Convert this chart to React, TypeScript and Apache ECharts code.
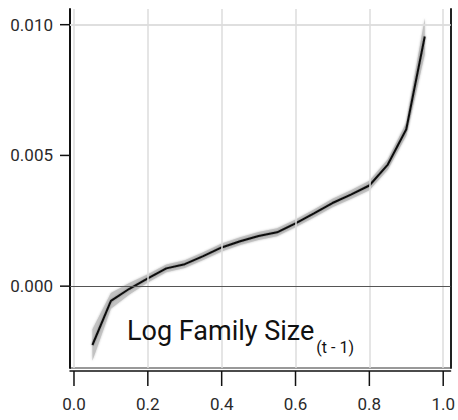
import React, { useEffect, useRef } from "react";
import * as echarts from "echarts";

// Quantile of the predictor (x) and estimated marginal effect (y)
const quantiles = [0.05, 0.1, 0.15, 0.2, 0.25, 0.3, 0.35, 0.4, 0.45, 0.5, 0.55, 0.6, 0.65, 0.7, 0.75, 0.8, 0.85, 0.9, 0.95];
const effect = [-0.00225, -0.00056, -0.0001, 0.0003, 0.00068, 0.00084, 0.00115, 0.00148, 0.00172, 0.00192, 0.00206, 0.0024, 0.00278, 0.00318, 0.0035, 0.00385, 0.00465, 0.006, 0.00955];
// Half-width of the confidence band around the estimate
const halfWidth = [0.0006, 0.0003, 0.00022, 0.00016, 0.00015, 0.00015, 0.00015, 0.00015, 0.00015, 0.00015, 0.00015, 0.00015, 0.00015, 0.00016, 0.00017, 0.00018, 0.0002, 0.00025, 0.0007];

const xTicks = [0, 0.2, 0.4, 0.6, 0.8, 1.0];
const yTicks = [0, 0.005, 0.01];

const labelMain = "Log Family Size";
const labelSub = "(t - 1)";

const FONT = "Roboto, 'Liberation Sans', sans-serif";

const X_MIN = -0.0108;
const X_MAX = 1.02;
const Y_MIN = -0.00313;
const Y_MAX = 0.0106;

function textWidth(text: string, size: number): number {
  const ctx = document.createElement("canvas").getContext("2d");
  if (!ctx) return text.length * size * 0.5;
  ctx.font = `${size}px ${FONT}`;
  return ctx.measureText(text).width;
}

export default function App() {
  const ref = useRef<HTMLDivElement>(null);

  useEffect(() => {
    if (!ref.current) return;
    const chart = echarts.init(ref.current, undefined, { renderer: "svg" });

    const gridLines = [
      ...xTicks.map((v) => ({ xAxis: v, lineStyle: { color: "#dddddd", width: 1.5, type: "solid" as const } })),
      ...yTicks.map((v) =>
        v === 0
          ? { yAxis: v, lineStyle: { color: "#555555", width: 1, type: "solid" as const } }
          : { yAxis: v, lineStyle: { color: "#dddddd", width: 1.5, type: "solid" as const } }
      ),
    ];

    chart.setOption({
      animation: false,
      backgroundColor: "#ffffff",
      grid: { left: 70, right: 6, top: 9, bottom: 52, containLabel: false },
      xAxis: {
        type: "value",
        min: X_MIN,
        max: X_MAX,
        position: "bottom",
        offset: 3,
        axisLine: { show: true, onZero: false, lineStyle: { color: "#111111", width: 1.5 } },
        axisTick: { show: false },
        axisLabel: {
          customValues: xTicks,
          formatter: (v: number) => v.toFixed(1),
          fontSize: 17,
          color: "#2a2a2a",
          fontFamily: FONT,
          margin: 24,
        },
        splitLine: { show: false },
      },
      yAxis: [
        {
          type: "value",
          min: Y_MIN,
          max: Y_MAX,
          position: "left",
          axisLine: { show: true, onZero: false, lineStyle: { color: "#111111", width: 2 } },
          axisTick: { show: false },
          axisLabel: {
            customValues: yTicks,
            formatter: (v: number) => v.toFixed(3),
            fontSize: 17,
            color: "#2a2a2a",
            fontFamily: FONT,
            margin: 17,
          },
          splitLine: { show: false },
        },
        {
          type: "value",
          min: Y_MIN,
          max: Y_MAX,
          position: "right",
          axisLine: { show: true, onZero: false, lineStyle: { color: "#222222", width: 2 } },
          axisTick: { show: false },
          axisLabel: { show: false },
          splitLine: { show: false },
        },
      ],
      series: [
        {
          name: "grid",
          type: "line",
          data: [],
          z: 0,
          silent: true,
          markLine: {
            silent: true,
            symbol: "none",
            label: { show: false },
            data: gridLines,
          },
        },
        {
          name: "band",
          type: "custom",
          z: 2,
          silent: true,
          clip: true,
          data: quantiles.map((q, i) => [q, effect[i] - halfWidth[i], effect[i] + halfWidth[i]]),
          encode: { x: 0, y: [1, 2] },
          renderItem: (params: any, api: any) => {
            if (params.dataIndex !== 0) return { type: "group", children: [] };
            const upper = quantiles.map((q, i) => api.coord([q, effect[i] + halfWidth[i]]));
            const lower = quantiles.map((q, i) => api.coord([q, effect[i] - halfWidth[i]])).reverse();
            return {
              type: "polygon",
              shape: { points: upper.concat(lower) },
              style: { fill: "#c2c2c2", shadowBlur: 2, shadowColor: "#c2c2c2" },
            };
          },
        },
        {
          name: "effect",
          type: "line",
          z: 3,
          symbol: "none",
          data: quantiles.map((q, i) => [q, effect[i]]),
          lineStyle: { color: "#111111", width: 2, shadowBlur: 2, shadowColor: "rgba(0,0,0,0.35)" },
        },
      ],
    });

    // Tick marks, the frame's bottom edge and the axis title, placed through the grid's scales
    const toPx = (x: number, y: number) => chart.convertToPixel({ gridIndex: 0 }, [x, y]) as number[];
    const [left, bottom] = toPx(X_MIN, Y_MIN);
    const [right] = toPx(X_MAX, Y_MIN);
    const axisY = bottom + 3;

    const tickStyle = { stroke: "#111111", lineWidth: 1.5 };
    const xTickMarks = xTicks.map((v) => {
      const [px] = toPx(v, Y_MIN);
      return { type: "line", silent: true, shape: { x1: px, y1: axisY, x2: px, y2: axisY + 15 }, style: tickStyle };
    });
    const yTickMarks = yTicks.map((v) => {
      const [, py] = toPx(X_MIN, v);
      return { type: "line", silent: true, shape: { x1: left - 10, y1: py, x2: left, y2: py }, style: tickStyle };
    });

    const mainSize = 27;
    const subSize = 16;
    const mainX = 127;
    const subX = mainX + textWidth(labelMain, mainSize) + 2;

    chart.setOption({
      graphic: [
        ...xTickMarks,
        ...yTickMarks,
        {
          type: "line",
          silent: true,
          shape: { x1: left, y1: bottom, x2: right, y2: bottom },
          style: { stroke: "#333333", lineWidth: 1 },
        },
        {
          type: "text",
          x: mainX,
          y: 344,
          z: 10,
          style: {
            text: labelMain,
            fontSize: mainSize,
            fontFamily: FONT,
            fill: "#111111",
            verticalAlign: "bottom",
            align: "left",
          },
        },
        {
          type: "text",
          x: subX,
          y: 355,
          z: 10,
          style: {
            text: labelSub,
            fontSize: subSize,
            fontFamily: FONT,
            fill: "#111111",
            verticalAlign: "bottom",
            align: "left",
          },
        },
      ],
    });

    return () => chart.dispose();
  }, []);

  return <div ref={ref} style={{ width: 458, height: 420, position: "absolute", left: 0, top: 0 }} />;
}
